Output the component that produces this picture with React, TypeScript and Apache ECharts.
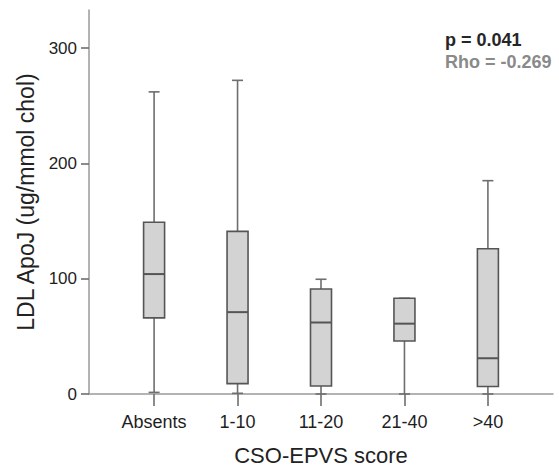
import React, { useEffect, useRef } from "react";
import * as echarts from "echarts";

// CSO-EPVS score groups
const categories = ["Absents", "1-10", "11-20", "21-40", ">40"];
// Five-number summaries per group: [min, Q1, median, Q3, max]
const minValues = [1.4, 0.6, 0, 0, 0];
const q1Values = [66, 9, 7, 46, 6.5];
const medianValues = [104, 71, 62, 61, 31];
const q3Values = [149, 141, 91, 83, 126];
const maxValues = [262, 272, 99.5, 83, 185];
const yTicks = [0, 100, 200, 300];
const yMax = 333;

const pText = "p = 0.041";
const rhoText = "Rho = -0.269";

const FONT = "'Liberation Sans', Arial, Helvetica, sans-serif";

export default function App() {
  const ref = useRef<HTMLDivElement>(null);

  useEffect(() => {
    document.body.style.margin = "0";
    if (!ref.current) return;
    const chart = echarts.init(ref.current, null, { renderer: "svg" });

    const data = categories.map((_, i) => [
      i,
      minValues[i],
      q1Values[i],
      medianValues[i],
      q3Values[i],
      maxValues[i],
    ]);

    const boxWidth = 21;
    const capWidth = 11;
    const boxStroke = "#555555";
    const whiskerStroke = "#6e6e6e";

    const renderItem = (params: any, api: any) => {
      const x = api.value(0);
      const pMin = api.coord([x, api.value(1)]);
      const pQ1 = api.coord([x, api.value(2)]);
      const pMed = api.coord([x, api.value(3)]);
      const pQ3 = api.coord([x, api.value(4)]);
      const pMax = api.coord([x, api.value(5)]);
      const cx = pMed[0];
      const lineStyle = { stroke: whiskerStroke, lineWidth: 1.6, fill: null };
      return {
        type: "group",
        children: [
          {
            type: "line",
            shape: { x1: cx, y1: pMax[1], x2: cx, y2: pQ3[1] },
            style: lineStyle,
          },
          {
            type: "line",
            shape: { x1: cx, y1: pQ1[1], x2: cx, y2: pMin[1] },
            style: lineStyle,
          },
          {
            type: "line",
            shape: { x1: cx - capWidth / 2, y1: pMax[1], x2: cx + capWidth / 2, y2: pMax[1] },
            style: lineStyle,
          },
          {
            type: "line",
            shape: { x1: cx - capWidth / 2, y1: pMin[1], x2: cx + capWidth / 2, y2: pMin[1] },
            style: lineStyle,
          },
          {
            type: "rect",
            shape: {
              x: cx - boxWidth / 2,
              y: pQ3[1],
              width: boxWidth,
              height: pQ1[1] - pQ3[1],
            },
            style: { fill: "#d3d3d3", stroke: boxStroke, lineWidth: 1.6 },
          },
          {
            type: "line",
            shape: { x1: cx - boxWidth / 2, y1: pMed[1], x2: cx + boxWidth / 2, y2: pMed[1] },
            style: { stroke: boxStroke, lineWidth: 2 },
          },
        ],
      };
    };

    chart.setOption({
      animation: false,
      backgroundColor: "#ffffff",
      textStyle: { fontFamily: FONT },
      grid: { left: 89, right: 6, top: 10, bottom: 76, containLabel: false },
      xAxis: {
        type: "value",
        min: -0.78,
        max: 4.78,
        splitLine: { show: false },
        axisLine: { show: true, onZero: false, lineStyle: { color: "#9a9a9a", width: 1.5 } },
        axisTick: {
          show: true,
          length: 12,
          customValues: [0, 1, 2, 3, 4],
          lineStyle: { color: "#6e6e6e", width: 1.6 },
        },
        axisLabel: {
          show: true,
          customValues: [0, 1, 2, 3, 4],
          formatter: (v: number) => categories[Math.round(v)] ?? "",
          color: "#1e1e1e",
          fontSize: 18,
          margin: 19,
          fontFamily: FONT,
        },
        name: "CSO-EPVS score",
        nameLocation: "middle",
        nameGap: 50,
        nameTextStyle: { fontSize: 22, color: "#222222", fontFamily: FONT },
      },
      yAxis: {
        type: "value",
        min: 0,
        max: yMax,
        splitLine: { show: false },
        axisLine: { show: true, onZero: false, lineStyle: { color: "#9a9a9a", width: 1.5 } },
        axisTick: {
          show: true,
          length: 8,
          customValues: yTicks,
          lineStyle: { color: "#6e6e6e", width: 1.6 },
        },
        axisLabel: {
          customValues: yTicks,
          color: "#1e1e1e",
          fontSize: 17,
          margin: 12,
          fontFamily: FONT,
        },
        name: "LDL ApoJ (ug/mmol chol)",
        nameLocation: "middle",
        nameGap: 47,
        nameTextStyle: { fontSize: 23, color: "#222222", fontFamily: FONT },
      },
      graphic: [
        {
          type: "text",
          left: 445,
          top: 31,
          style: {
            text: pText,
            fill: "#262626",
            font: `bold 18px ${FONT}`,
          },
        },
        {
          type: "text",
          left: 445,
          top: 53,
          style: {
            text: rhoText,
            fill: "#8a8a8a",
            font: `bold 18px ${FONT}`,
          },
        },
      ],
      series: [
        {
          type: "custom",
          renderItem,
          data,
          encode: { x: 0, y: [1, 2, 3, 4, 5] },
          clip: false,
        },
      ],
    });

    return () => chart.dispose();
  }, []);

  return <div ref={ref} style={{ width: 559, height: 471 }} />;
}
